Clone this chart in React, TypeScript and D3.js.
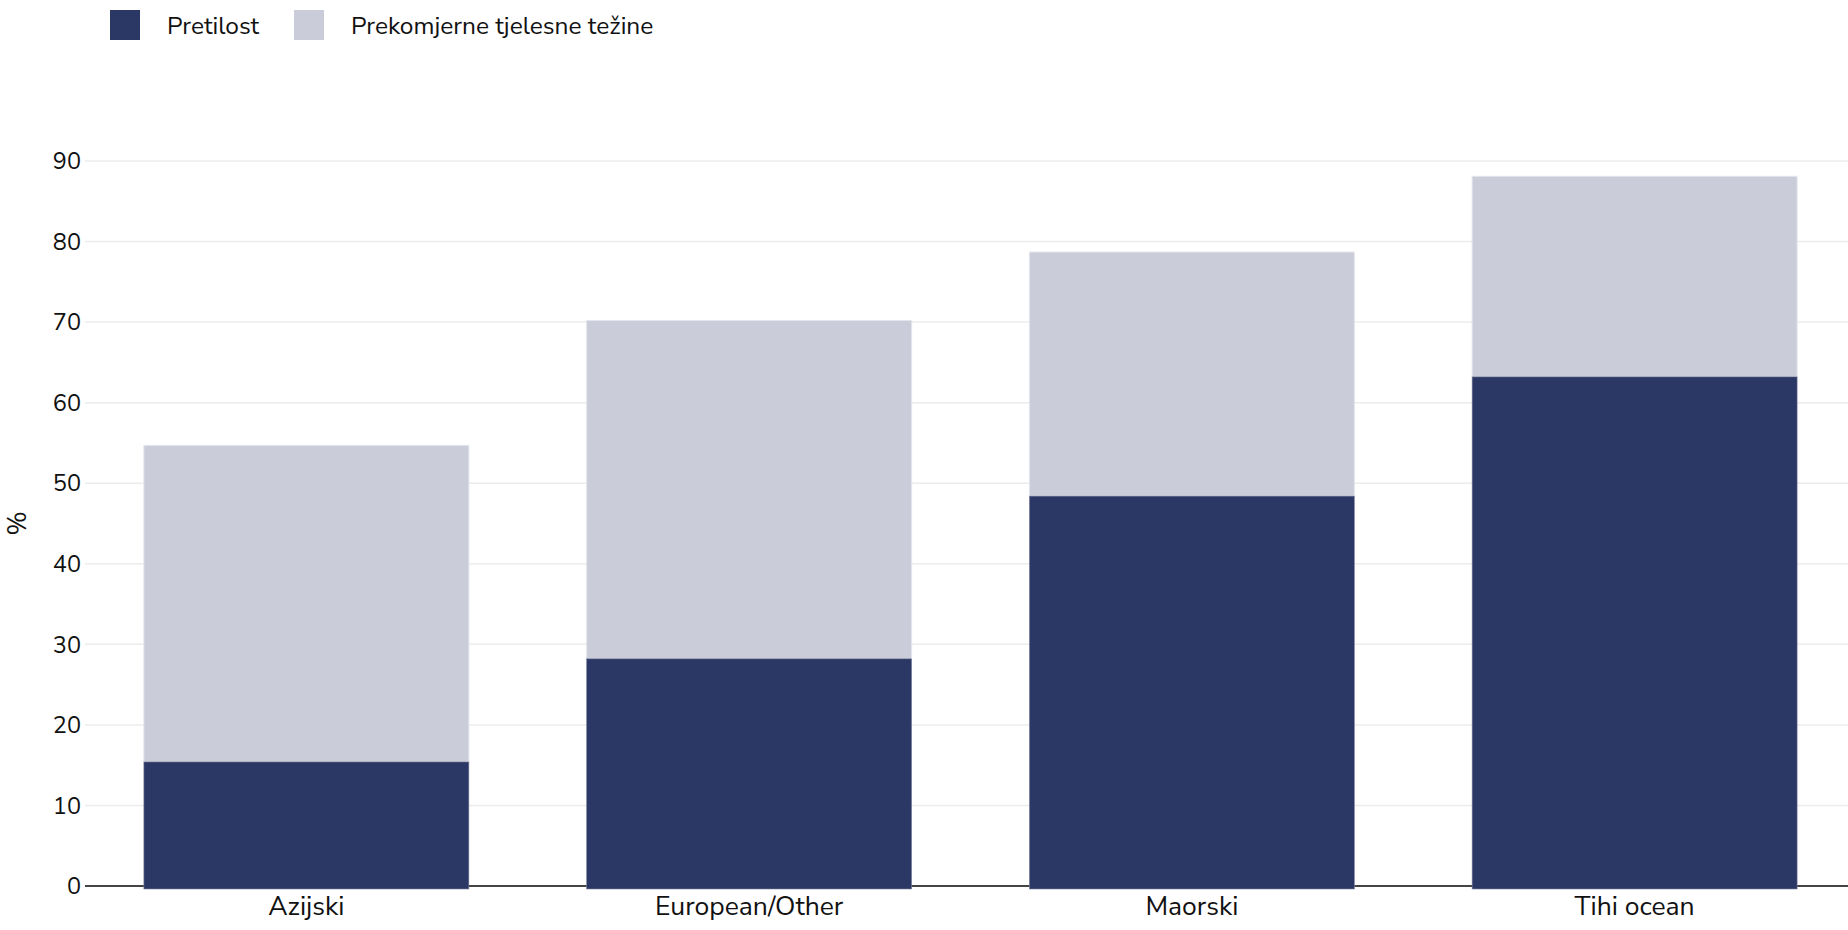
import React from "react";
import * as d3 from "d3";

const categories = ["Azijski", "European/Other", "Maorski", "Tihi ocean"];
const obesity = [15.4, 28.2, 48.4, 63.2];
const overweight = [39.3, 42.0, 30.3, 24.9];
const yTicks = [0, 10, 20, 30, 40, 50, 60, 70, 80, 90];
const seriesNames = ["Pretilost", "Prekomjerne tjelesne težine"];
const colors = ["#2b3764", "#cacdd9"];

const W = 1848;
const H = 930;
const FONT = "'Nunito Sans', Lato, 'Open Sans', sans-serif";

export default function App() {
  const x = d3
    .scaleBand<string>()
    .domain(categories)
    .range([85, 1856])
    .paddingInner(0.266)
    .paddingOuter(0.133);
  const y = d3.scaleLinear().domain([0, 90]).range([886, 161]);

  const stack = categories.map((c, i) => ({
    c,
    o: obesity[i],
    t: obesity[i] + overweight[i],
  }));

  return (
    <svg
      width={W}
      height={H}
      style={{ position: "absolute", left: 0, top: 0, background: "#fff" }}
      fontFamily={FONT}
    >
      {yTicks.map((t) =>
        t === 0 ? null : (
          <line
            key={"g" + t}
            x1={85}
            x2={W}
            y1={y(t)}
            y2={y(t)}
            stroke="#ececec"
            strokeWidth={1.5}
          />
        )
      )}
      <line x1={85} x2={W} y1={y(0)} y2={y(0)} stroke="#444" strokeWidth={2} />
      {yTicks.map((t) => (
        <text
          key={"t" + t}
          x={81}
          y={y(t)}
          dy="0.35em"
          textAnchor="end"
          fontSize={23.5}
          fill="#111"
        >
          {t}
        </text>
      ))}
      <text
        transform={`translate(26, ${(y(40) + y(50)) / 2}) rotate(-90)`}
        textAnchor="middle"
        fontSize={26}
        fill="#111"
      >
        %
      </text>
      {stack.map((d) => (
        <g key={d.c}>
          <rect
            x={x(d.c)}
            width={x.bandwidth()}
            y={y(d.t)}
            height={y(d.o) - y(d.t)}
            fill={colors[1]}
            stroke="#e3e5ec"
            strokeWidth={1}
          />
          <rect
            x={x(d.c)}
            width={x.bandwidth()}
            y={y(d.o)}
            height={y(0) - y(d.o) + 3}
            fill={colors[0]}
            stroke="#7c829c"
            strokeWidth={0.6}
          />
        </g>
      ))}
      {categories.map((c) => (
        <text
          key={"x" + c}
          x={(x(c) as number) + x.bandwidth() / 2}
          y={915}
          textAnchor="middle"
          fontSize={26.5}
          fill="#111"
        >
          {c}
        </text>
      ))}
      <rect x={110} y={10} width={30} height={30} fill={colors[0]} />
      <text x={167} y={25} dy="0.35em" fontSize={24.5} fill="#111">
        {seriesNames[0]}
      </text>
      <rect x={294} y={10} width={30} height={30} fill={colors[1]} />
      <text x={351} y={25} dy="0.35em" fontSize={24.5} fill="#111">
        {seriesNames[1]}
      </text>
    </svg>
  );
}
